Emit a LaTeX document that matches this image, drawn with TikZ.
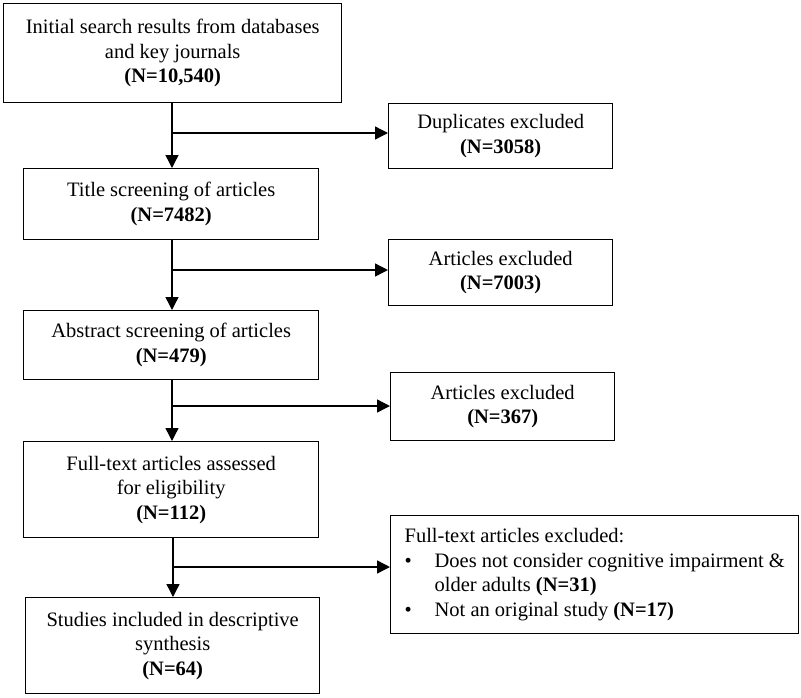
\documentclass[tikz,border=0pt]{standalone}
\usepackage{fontspec}
\setmainfont{Liberation Serif}
\usetikzlibrary{arrows.meta}
\begin{document}
\begin{tikzpicture}[x=1pt,y=-1pt,
  box/.style={draw=black, line width=1.4pt, inner sep=0pt, anchor=north west, align=center,
    font=\fontsize{20.5}{24.5}\selectfont},
  arr/.style={line width=1.4pt, -{Triangle[length=13pt,width=13pt]}},
  ln/.style={line width=1.4pt}]
\useasboundingbox (0,0) rectangle (801,697);
\node[box, minimum width=338, minimum height=99] (init) at (3,3)
  {Initial search results from databases\\and key journals\\\textbf{(N=10,540)}};
\node[box, minimum width=295, minimum height=71] (title) at (23,168)
  {Title screening of articles\\\textbf{(N=7482)}};
\node[box, minimum width=295, minimum height=69] (abs) at (23,310)
  {Abstract screening of articles\\\textbf{(N=479)}};
\node[box, minimum width=295, minimum height=96] (full) at (23,441)
  {Full-text articles assessed\\for eligibility\\\textbf{(N=112)}};
\node[box, minimum width=294, minimum height=96] (incl) at (25,597)
  {Studies included in descriptive\\synthesis\\\textbf{(N=64)}};
\node[box, minimum width=224, minimum height=65] (dup) at (388,103)
  {Duplicates excluded\\\textbf{(N=3058)}};
\node[box, minimum width=224, minimum height=66] (ex1) at (388,239)
  {Articles excluded\\\textbf{(N=7003)}};
\node[box, minimum width=224, minimum height=68] (ex2) at (390,372)
  {Articles excluded\\\textbf{(N=367)}};
\node[box, minimum width=408, minimum height=118, align=left] (ex3) at (390,515)
  {Full-text articles excluded:\\
   \makebox[30pt][l]{\textbullet}Does not consider cognitive impairment \&\\
   \hspace*{30pt}older adults \textbf{(N=31)}\\
   \makebox[30pt][l]{\textbullet}Not an original study \textbf{(N=17)}};
\coordinate (j1) at (172,133);
\coordinate (j2) at (172,270);
\coordinate (j3) at (172,406);
\coordinate (j4) at (173,567);
\draw[arr] (init.south -| j1) -- (title.north -| j1);
\draw[arr] (j1) -- (j1 -| dup.west);
\draw[arr] (title.south -| j2) -- (abs.north -| j2);
\draw[arr] (j2) -- (j2 -| ex1.west);
\draw[arr] (abs.south -| j3) -- (full.north -| j3);
\draw[arr] (j3) -- (j3 -| ex2.west);
\draw[arr] (full.south -| j4) -- (incl.north -| j4);
\draw[arr] (j4) -- (j4 -| ex3.west);
\end{tikzpicture}
\end{document}
